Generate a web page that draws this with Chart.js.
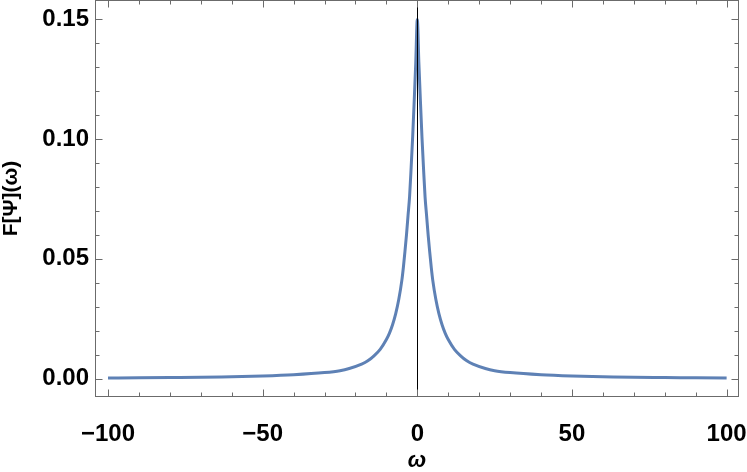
<!DOCTYPE html>
<html>
<head>
<meta charset="utf-8">
<script src="https://cdn.jsdelivr.net/npm/chart.js@4"></script>
<style>
  html, body { margin: 0; padding: 0; background: #fff; }
  #wrap { width: 747px; height: 472px; }
</style>
</head>
<body>
<div id="wrap"><canvas id="grafico" width="747" height="472"></canvas></div>
<script>
// valores
const omega = [-100, -90, -80, -70, -60, -50, -40, -30, -25, -22, -18, -16, -14, -12, -10, -9, -8, -7, -6, -5, -4.5, -4, -3.5, -3, -2.5, -2, -1.5, -1, -0.5,
    0, 0.5, 1, 1.5, 2, 2.5, 3, 3.5, 4, 4.5, 5, 6, 7, 8, 9, 10, 12, 14, 16, 18, 22, 25, 30, 40, 50, 60, 70, 80, 90, 100];
const psi = [0.0002, 0.0003, 0.0004, 0.0005, 0.0008, 0.0011, 0.0016, 0.0025, 0.0033, 0.0042, 0.0060, 0.0074, 0.0095, 0.0122, 0.0163, 0.0190, 0.0225, 0.0270, 0.0330, 0.0410, 0.0465, 0.0530, 0.0600, 0.0680, 0.0760, 0.0880, 0.1010, 0.1160, 0.1320,
    0.1500, 0.1320, 0.1160, 0.1010, 0.0880, 0.0760, 0.0680, 0.0600, 0.0530, 0.0465, 0.0410, 0.0330, 0.0270, 0.0225, 0.0190, 0.0163, 0.0122, 0.0095, 0.0074, 0.0060, 0.0042, 0.0033, 0.0025, 0.0016, 0.0011, 0.0008, 0.0005, 0.0004, 0.0003, 0.0002];
const xTicks = [-100, -50, 0, 50, 100];
const yTicks = [0, 0.05, 0.10, 0.15];
const xMinor = [-90, -80, -70, -60, -40, -30, -20, -10, 10, 20, 30, 40, 60, 70, 80, 90];
const yMinor = [0.01, 0.02, 0.03, 0.04, 0.06, 0.07, 0.08, 0.09, 0.11, 0.12, 0.13, 0.14];

const fonte = "'Liberation Sans', Arial, sans-serif";

// moldura + marcas para dentro (estilo Mathematica)
const moldura = {
    id: 'moldura',
    afterDatasetsDraw(chart) {
        const { ctx, chartArea: a, scales: { x, y } } = chart;
        ctx.save();
        // eixo vertical em 0
        ctx.strokeStyle = '#000';
        ctx.lineWidth = 1;
        const x0 = Math.round(x.getPixelForValue(0)) + 0.5;
        ctx.beginPath();
        ctx.moveTo(x0, a.top);
        ctx.lineTo(x0, a.bottom);
        ctx.stroke();

        ctx.strokeStyle = '#6b6b6b';
        ctx.lineWidth = 1;
        const L = Math.round(a.left) + 0.5, R = Math.round(a.right) - 0.5;
        const T = Math.round(a.top) + 0.5, B = Math.round(a.bottom) - 0.5;
        ctx.strokeRect(L, T, R - L, B - T);

        ctx.beginPath();
        const marcaX = (v, len) => {
            const px = Math.round(x.getPixelForValue(v)) + 0.5;
            ctx.moveTo(px, B); ctx.lineTo(px, B - len);
            ctx.moveTo(px, T); ctx.lineTo(px, T + len);
        };
        const marcaY = (v, len) => {
            const py = Math.round(y.getPixelForValue(v)) + 0.5;
            ctx.moveTo(L, py); ctx.lineTo(L + len, py);
            ctx.moveTo(R, py); ctx.lineTo(R - len, py);
        };
        xTicks.forEach(v => marcaX(v, 7));
        xMinor.forEach(v => marcaX(v, 4));
        yTicks.forEach(v => marcaY(v, 7));
        yMinor.forEach(v => marcaY(v, 4));
        ctx.stroke();
        ctx.restore();
    }
};

const ctx = document.getElementById('grafico').getContext('2d');
new Chart(ctx, {
    type: 'line',
    data: {
        datasets: [{
            data: omega.map((w, i) => ({ x: w, y: psi[i] })),
            borderColor: '#5e81b5',
            borderWidth: 3,
            pointRadius: 0,
            cubicInterpolationMode: 'monotone',
            fill: false
        }]
    },
    options: {
        responsive: false,
        animation: false,
        layout: { padding: { top: 0, right: 8, left: 0, bottom: 0 } },
        plugins: { legend: { display: false }, tooltip: { enabled: false } },
        scales: {
            x: {
                type: 'linear',
                min: -104.2,
                max: 104,
                afterBuildTicks: s => { s.ticks = xTicks.map(v => ({ value: v })); },
                afterFit: s => { s.height = 75; s.paddingLeft = 0; s.paddingRight = 0; },
                grid: { display: false, drawTicks: false, tickLength: 0 },
                border: { display: false },
                ticks: {
                    color: '#000',
                    padding: 23,
                    maxRotation: 0,
                    font: { family: fonte, size: 24, weight: 'bold' },
                    callback: v => (v < 0 ? '\u2212' + Math.abs(v) : String(v))
                },
                title: {
                    display: true,
                    text: 'ω',
                    color: '#000',
                    padding: { top: 0, bottom: -2 },
                    font: { family: fonte, size: 22, weight: 'bold', style: 'italic' }
                }
            },
            y: {
                type: 'linear',
                min: -0.0077,
                max: 0.1581,
                afterBuildTicks: s => { s.ticks = yTicks.map(v => ({ value: v })); },
                afterFit: s => { s.width = 95; s.paddingTop = 0; s.paddingBottom = 0; },
                grid: { display: false, drawTicks: false, tickLength: 0 },
                border: { display: false },
                ticks: {
                    color: '#000',
                    padding: 6,
                    font: { family: fonte, size: 24, weight: 'bold' },
                    callback: v => v.toFixed(2)
                },
                title: {
                    display: true,
                    text: 'F[Ψ](ω)',
                    color: '#000',
                    padding: { top: -1, bottom: 0 },
                    font: { family: fonte, size: 21, weight: 'bold' }
                }
            }
        }
    },
    plugins: [moldura]
});
</script>
</body>
</html>
